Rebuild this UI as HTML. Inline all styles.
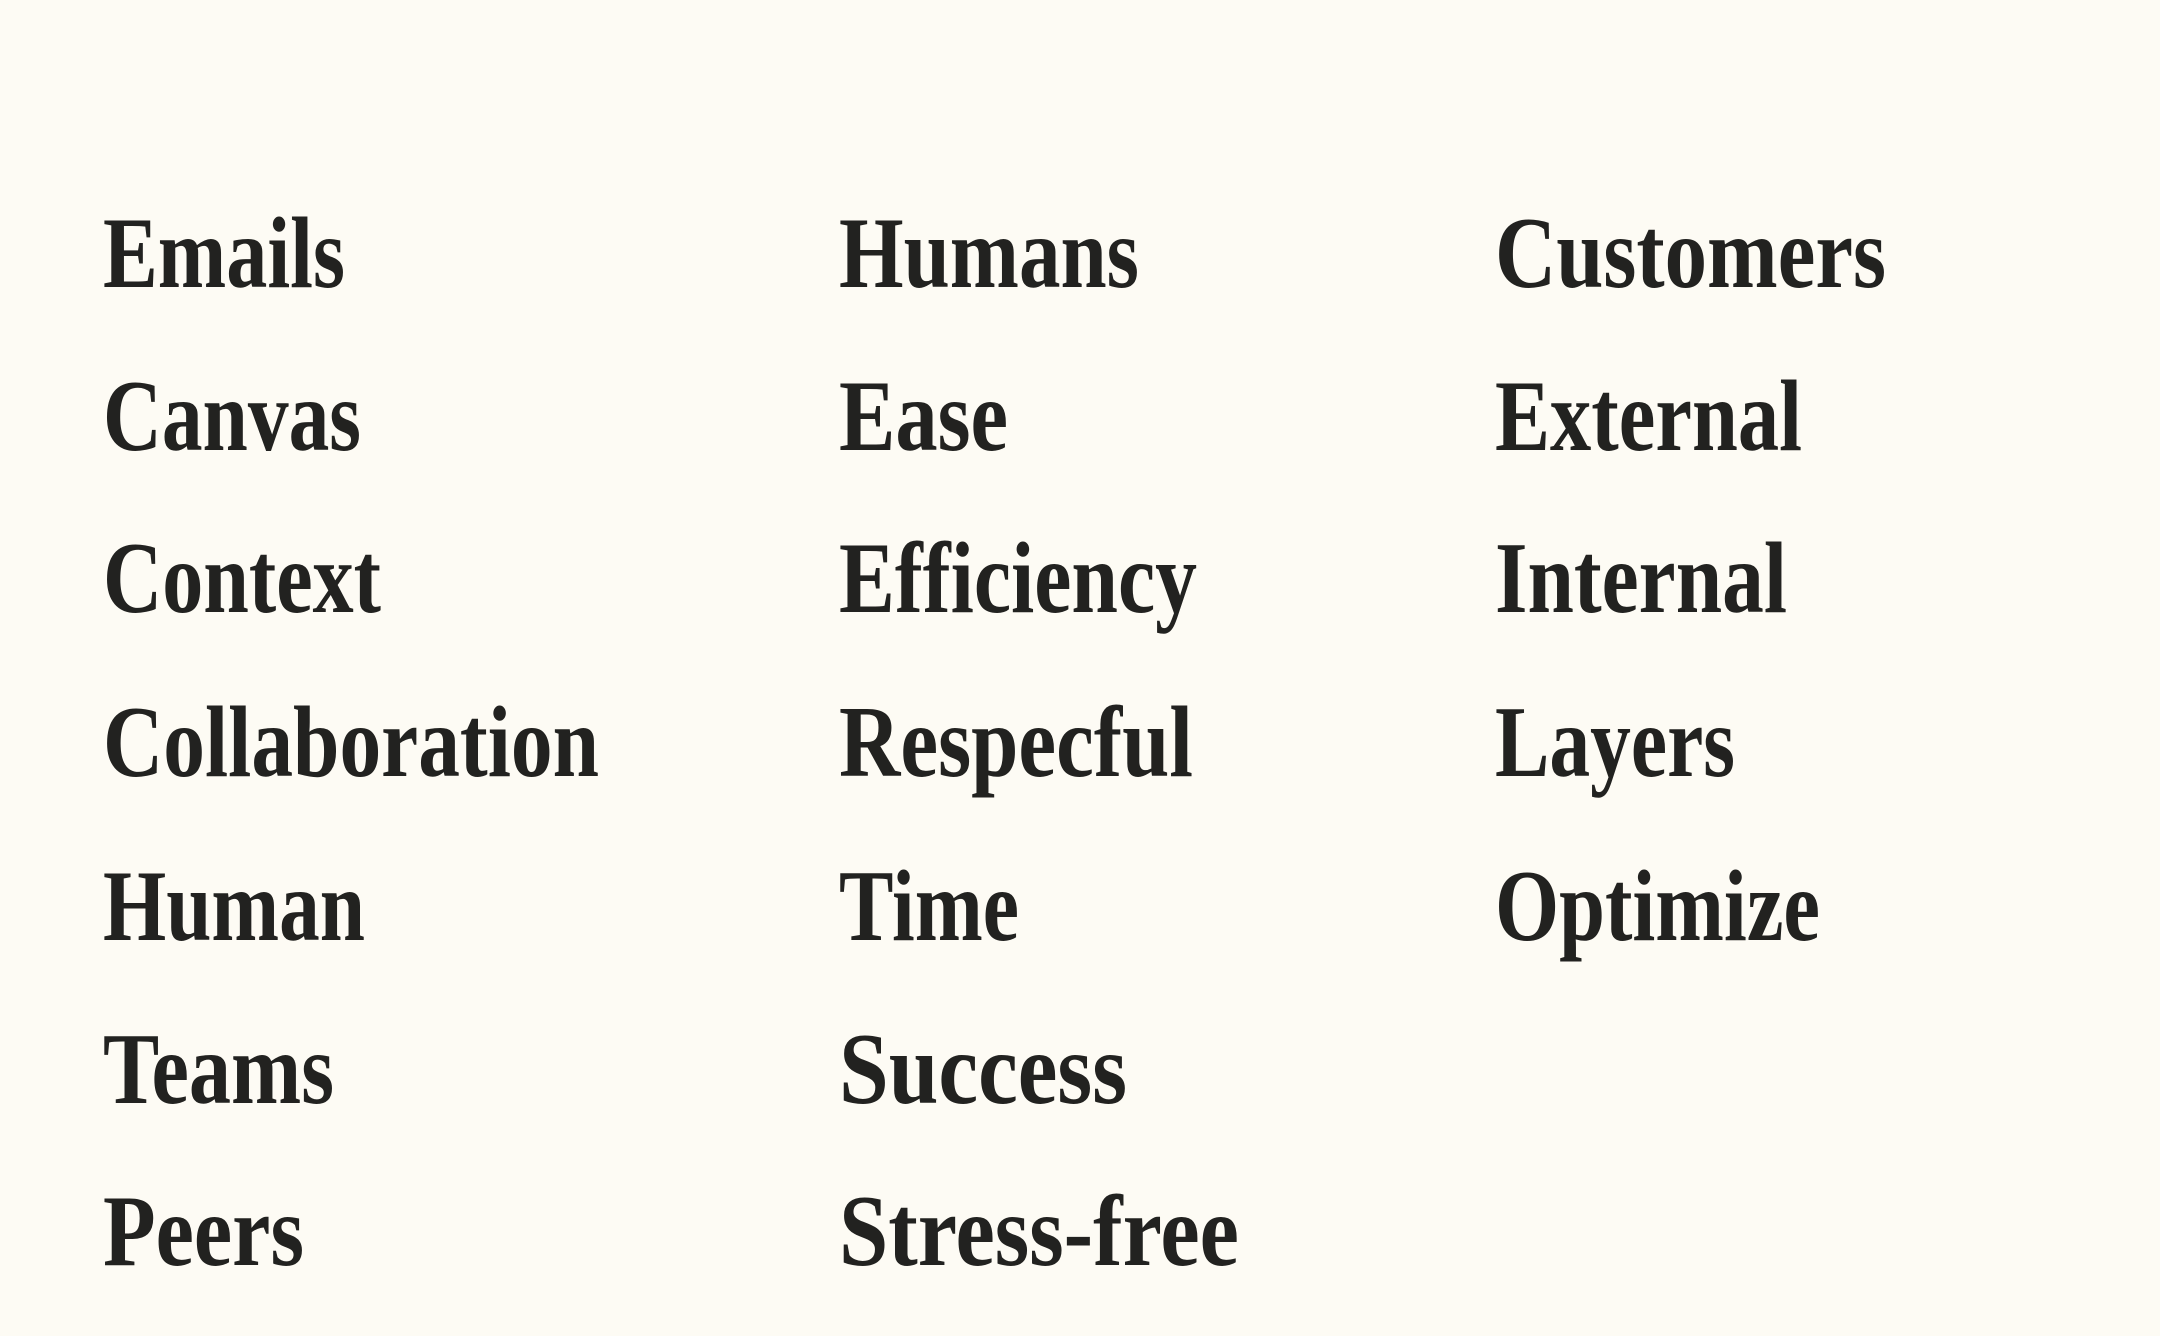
<!DOCTYPE html>
<html><head><meta charset="utf-8"><style>
html,body{margin:0;padding:0;background:#fdfbf4;}
svg{display:block}
text{font-family:"Liberation Serif",serif;font-weight:bold;font-size:102px;fill:#222220;}
</style></head><body>
<svg width="2160" height="1336" viewBox="0 0 2160 1336" xmlns="http://www.w3.org/2000/svg">
<rect width="2160" height="1336" fill="#fdfbf4"/>
<text x="103" y="287" textLength="242" lengthAdjust="spacingAndGlyphs">Emails</text>
<text x="103" y="450" textLength="258" lengthAdjust="spacingAndGlyphs">Canvas</text>
<text x="103" y="612" textLength="278" lengthAdjust="spacingAndGlyphs">Context</text>
<text x="103" y="776" textLength="496" lengthAdjust="spacingAndGlyphs">Collaboration</text>
<text x="103" y="940" textLength="262" lengthAdjust="spacingAndGlyphs">Human</text>
<text x="103" y="1103" textLength="231" lengthAdjust="spacingAndGlyphs">Teams</text>
<text x="103" y="1265" textLength="201" lengthAdjust="spacingAndGlyphs">Peers</text>
<text x="839" y="287" textLength="300" lengthAdjust="spacingAndGlyphs">Humans</text>
<text x="839" y="450" textLength="169" lengthAdjust="spacingAndGlyphs">Ease</text>
<text x="839" y="612" textLength="358" lengthAdjust="spacingAndGlyphs">Efficiency</text>
<text x="839" y="776" textLength="354" lengthAdjust="spacingAndGlyphs">Respecful</text>
<text x="839" y="940" textLength="180" lengthAdjust="spacingAndGlyphs">Time</text>
<text x="839" y="1103" textLength="288" lengthAdjust="spacingAndGlyphs">Success</text>
<text x="839" y="1265" textLength="400" lengthAdjust="spacingAndGlyphs">Stress-free</text>
<text x="1495" y="287" textLength="391" lengthAdjust="spacingAndGlyphs">Customers</text>
<text x="1495" y="450" textLength="307" lengthAdjust="spacingAndGlyphs">External</text>
<text x="1495" y="612" textLength="292" lengthAdjust="spacingAndGlyphs">Internal</text>
<text x="1495" y="776" textLength="240" lengthAdjust="spacingAndGlyphs">Layers</text>
<text x="1495" y="940" textLength="325" lengthAdjust="spacingAndGlyphs">Optimize</text>
</svg>
</body></html>
